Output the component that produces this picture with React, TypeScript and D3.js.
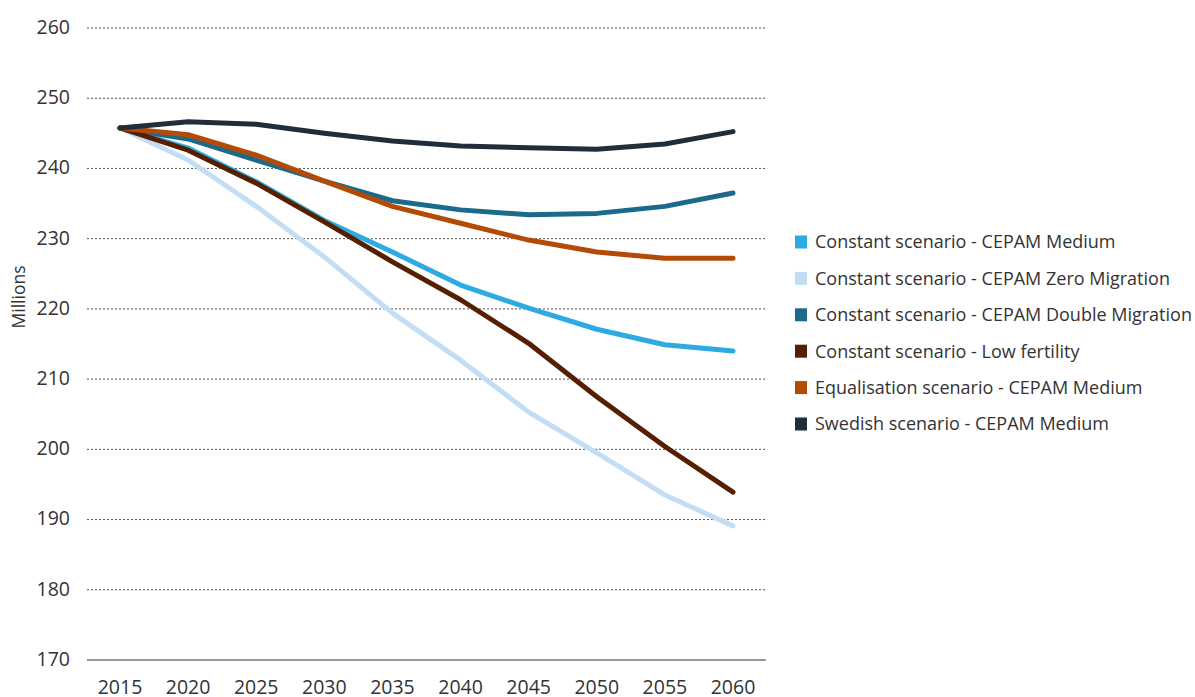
import React from "react";
import * as d3 from "d3";

const years = [2015, 2020, 2025, 2030, 2035, 2040, 2045, 2050, 2055, 2060];
const yTicks = [170, 180, 190, 200, 210, 220, 230, 240, 250, 260];

const constantMedium = [245.76, 242.9, 238.1, 232.6, 228.1, 223.4, 220.1, 217.1, 214.9, 214.0];
const constantZeroMigration = [245.76, 241.2, 234.6, 227.4, 219.4, 212.7, 205.3, 199.5, 193.5, 189.1];
const constantDoubleMigration = [245.76, 244.2, 241.2, 238.2, 235.4, 234.1, 233.4, 233.6, 234.6, 236.5];
const constantLowFertility = [245.76, 242.6, 237.9, 232.4, 226.7, 221.3, 215.1, 207.5, 200.4, 193.9];
const equalisationMedium = [245.76, 244.8, 241.9, 238.2, 234.6, 232.2, 229.8, 228.1, 227.2, 227.2];
const swedishMedium = [245.76, 246.66, 246.3, 245.0, 243.9, 243.2, 242.96, 242.73, 243.48, 245.24];

const seriesNames = [
  "Constant scenario - CEPAM Medium",
  "Constant scenario - CEPAM Zero Migration",
  "Constant scenario - CEPAM Double Migration",
  "Constant scenario - Low fertility",
  "Equalisation scenario - CEPAM Medium",
  "Swedish scenario - CEPAM Medium",
];
const seriesValues = [
  constantMedium,
  constantZeroMigration,
  constantDoubleMigration,
  constantLowFertility,
  equalisationMedium,
  swedishMedium,
];
const seriesColors = ["#2eaae2", "#c3def4", "#1b6a8c", "#562000", "#b34a06", "#1f2e3a"];

export default function App() {
  const W = 1195, H = 697;
  const x = d3.scalePoint<number>().domain(years).range([120, 733]);
  const y = d3.scaleLinear().domain([170, 260]).range([660, 28]);
  const line = d3
    .line<number>()
    .x((_, i) => x(years[i]) as number)
    .y((d) => y(d));
  const font = "'Open Sans', sans-serif";
  const textColor = "#333";
  return (
    <svg
      width={W}
      height={H}
      style={{ position: "absolute", left: 0, top: 0, background: "#fff" }}
      fontFamily={font}
    >
      {yTicks.map((t) =>
        t === 170 ? null : (
          <line
            key={"g" + t}
            x1={87}
            x2={766}
            y1={y(t)}
            y2={y(t)}
            stroke="#555"
            strokeWidth={1}
            strokeDasharray="2,2"
          />
        )
      )}
      <line x1={87} x2={766} y1={y(170)} y2={y(170)} stroke="#333" strokeWidth={1.2} />
      {yTicks.map((t) => (
        <text
          key={"yl" + t}
          x={70}
          y={y(t)}
          dy="0.3em"
          textAnchor="end"
          fontSize={19.5}
          fill={textColor}
        >
          {t}
        </text>
      ))}
      {years.map((yr) => (
        <text
          key={"xl" + yr}
          x={x(yr) as number}
          y={694}
          textAnchor="middle"
          fontSize={19.5}
          fill={textColor}
        >
          {yr}
        </text>
      ))}
      <text
        transform={`translate(25,297) rotate(-90)`}
        textAnchor="middle"
        fontSize={17.5}
        fill={textColor}
      >
        Millions
      </text>
      {seriesValues.map((vals, i) => (
        <path
          key={"s" + i}
          d={line(vals) || ""}
          fill="none"
          stroke={seriesColors[i]}
          strokeWidth={5}
          strokeLinecap="round"
          strokeLinejoin="round"
        />
      ))}
      {seriesNames.map((name, i) => {
        const ly = 242 + i * 36.4;
        return (
          <g key={"lg" + i}>
            <rect x={795} y={ly - 6.5} width={12} height={13} fill={seriesColors[i]} />
            <text x={815} y={ly} dy="0.35em" fontSize={18} fill={textColor}>
              {name}
            </text>
          </g>
        );
      })}
    </svg>
  );
}
